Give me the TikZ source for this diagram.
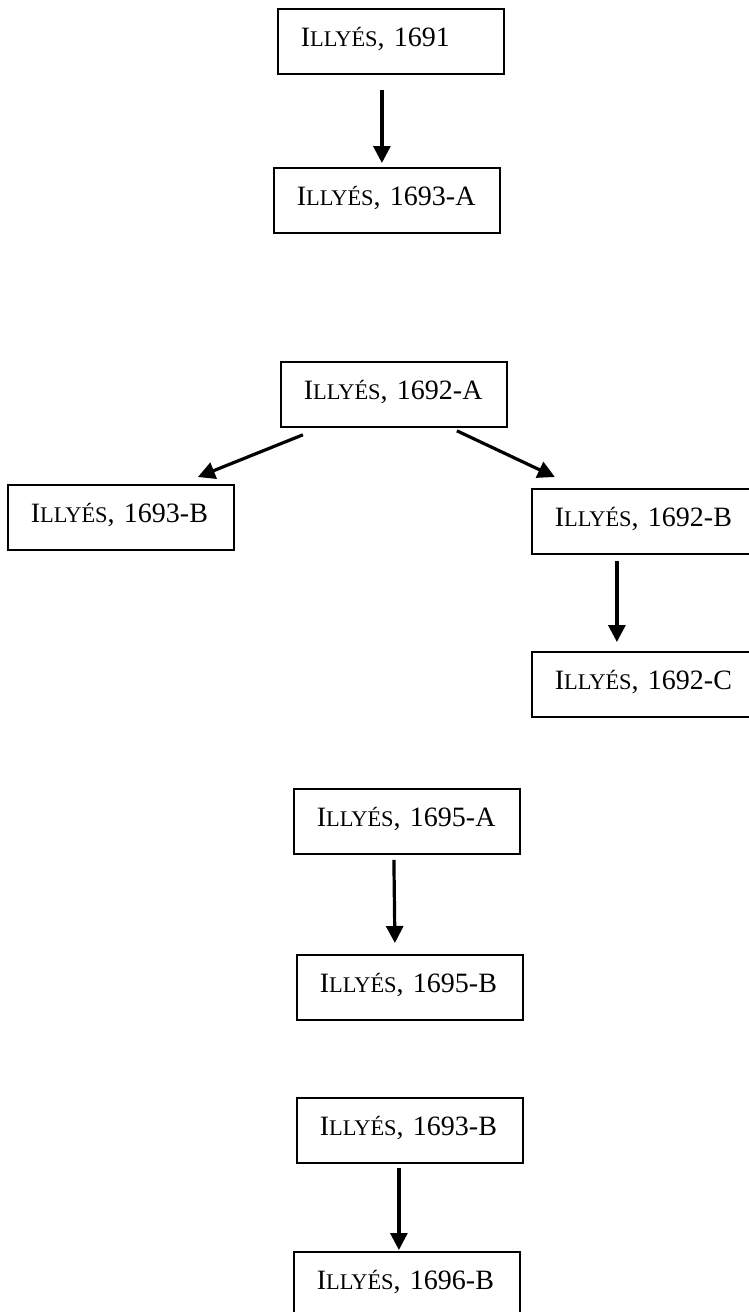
\documentclass[tikz,border=0pt]{standalone}
\usepackage{fontspec}
\setmainfont{Liberation Serif}
\usepackage{tikz}
\usetikzlibrary{arrows.meta}
\newcommand{\ily}{I{\fontsize{11.2}{12}\selectfont LLYÉS}}

\begin{document}
\begin{tikzpicture}[x=0.5pt,y=-0.5pt,
    box/.style={draw, line width=0.9pt, anchor=north west, inner xsep=11.5pt, inner ysep=0pt,
      text width=90pt, align=left, minimum height=32.5pt, text height=9.6pt, text depth=4.5pt,
      font=\fontsize{14}{16}\selectfont},
    arr/.style={line width=1.6pt, -{Triangle[width=8.5pt,length=8.5pt]}}]
      \clip (0,0) rectangle (749,1312);

      % 1691 -> 1693-A
      \node (i1691) at (277,8) [box] {\ily, 1691};
      \node (i1693a) at (273,167) [box] {\ily, 1693-A};
      \draw[arr] ([shift={(-9,15)}]i1691.south) to ([shift={(-5,-4)}]i1693a.north);

      % 1692-A -> 1693-B, 1692-B -> 1692-C
      \node (i1692a) at (280,361) [box] {\ily, 1692-A};
      \node (i1693b) at (7,484) [box] {\ily, 1693-B};
      \node (i1692b) at (531,488) [box] {\ily, 1692-B};
      \node (i1692c) at (531,651) [box] {\ily, 1692-C};
      \draw[arr] ([shift={(-91,7)}]i1692a.south) to ([shift={(77,-7)}]i1693b.north);
      \draw[arr] ([shift={(63,3)}]i1692a.south) to ([shift={(-90,-11)}]i1692b.north);
      \draw[arr] ([shift={(-28,6)}]i1692b.south) to ([shift={(-28,-9)}]i1692c.north);

      % 1695-A -> 1695-B
      \node (i1695a) at (293,788) [box] {\ily, 1695-A};
      \node (i1695b) at (296,954) [box] {\ily, 1695-B};
      \draw[arr] ([shift={(-13,5)}]i1695a.south) to ([shift={(-15,-11)}]i1695b.north);

      % 1693-B -> 1696-B
      \node (j1693b) at (296,1097) [box] {\ily, 1693-B};
      \node (i1696b) at (293,1251) [box] {\ily, 1696-B};
      \draw[arr] ([shift={(-11,4)}]j1693b.south) to ([shift={(-8,-1)}]i1696b.north);
\end{tikzpicture}
\end{document}
